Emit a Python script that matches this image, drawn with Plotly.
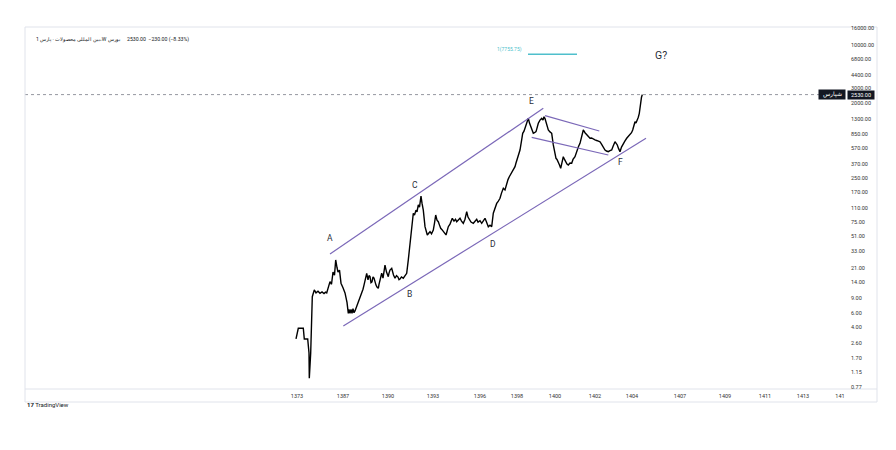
import math
import plotly.graph_objects as go

# ---- data (x = bar position on the time scale, price in rial) ----
bar_pos = [296, 298.3, 303.3, 304.3, 307.7, 309, 309.3, 310.7, 312.3, 314.3, 316, 318, 320, 322,
           324, 325.5, 326.7, 328, 330, 331.5, 333, 334.5, 335.7, 337, 338, 339.5, 341, 343, 345,
           347, 348.3, 349, 350, 351, 352, 353, 354, 355, 356.5, 358, 360, 361.7, 363, 364, 365.5,
           366.7, 368, 369, 370, 371, 372, 373, 374, 375, 376, 377, 378.3, 379, 380, 381.7, 383,
           384, 385, 386.5, 387.5, 388.3, 389, 390, 391.7, 392.5, 393.5, 395, 396.5, 398, 399,
           400, 401.5, 403.3, 405, 406.7, 408.3, 411, 413.3, 414.5, 416, 417, 418.3, 419.5, 421,
           422, 423.3, 425, 427.3, 428.5, 430, 431.5, 433.3, 434.5, 435.7, 437, 438.3, 439.5, 440.7,
           442, 443.3, 444.5, 446, 447, 448.3, 450, 452.3, 454, 455.5, 456.7, 458, 460, 461.5,
           463.3, 465, 466.7, 468, 469.3, 471, 473.3, 475, 476.7, 478, 480, 481.7, 483, 485,
           486.5, 488.3, 490, 491.7, 493.3, 495, 496.7, 498, 500, 501.5, 503.3, 505, 506.7, 508,
           509.3, 511, 512.7, 514, 515, 516, 517.3, 518.5, 520, 521.5, 522.7, 524, 525, 526.7,
           528.3, 529.5, 530.7, 532, 533.3, 534.5, 536, 537, 538.3, 540, 541.7, 543, 544, 545,
           546, 547, 548.3, 550, 551.7, 553.3, 554.5, 556, 557, 558.3, 559.5, 560.7, 562, 563.3,
           564.5, 565.7, 567, 568.3, 570, 571.7, 573, 575, 576, 577.3, 578.5, 580, 581.5, 583.3,
           585, 586.7, 588, 590, 591.5, 593.3, 595, 597.3, 598.5, 600, 601.5, 602.7, 604, 605,
           606.5, 608.3, 610, 611.7, 613, 615, 616, 617.3, 618.5, 620, 621.5, 623.3, 625, 626.7,
           628, 630, 631.5, 632.7, 634, 635, 636, 637.3, 638.3, 639.3, 640, 640.7, 641.5, 642.3]
price = [2.90, 3.90, 3.90, 2.90, 2.90, 1.97, 0.975, 1.97, 9.36, 11.3, 10.4, 10.9, 10.3, 10.7,
         10.2, 10.6, 10.4, 12.0, 14.2, 13.2, 18.5, 17.0, 25.9, 21.0, 18.5, 19.5, 13.6, 12.0, 10.4,
         8.0, 5.90, 6.6, 5.9, 6.6, 5.9, 6.7, 6.0, 6.3, 7.0, 7.86, 9.0, 10.3, 11.5, 12.9, 15.0,
         17.9, 14.9, 16.8, 16.3, 13.8, 14.1, 16.2, 15.7, 13.5, 12.9, 12.2, 11.8, 13.2, 14.9, 17.9, 15.7,
         18.8, 22.5, 18.5, 17.2, 16.3, 18.0, 19.6, 20.5, 18.2, 17.1, 15.6, 16.8, 16.1, 15.0,
         15.3, 16.2, 15.6, 16.5, 17.9, 25.9, 51.8, 94.4, 90.0, 103, 98, 119, 112, 152,
         125, 103, 65.1, 51.8, 54.0, 56.7, 53.5, 59.4, 72.0, 90.0, 78.0, 74.8, 68.0, 62.2,
         60.0, 56.7, 54.0, 51.8, 57.0, 65.1, 70.0, 82.2, 76.0, 80.0, 74.8, 78.0, 82.2, 76.0,
         71.5, 80.0, 98.6, 85.0, 78.3, 74.0, 71.5, 76.0, 79.9, 74.0, 77.0, 71.5, 76.0, 82.2,
         74.0, 65.1, 68.0, 65.1, 94.4, 110, 124, 130, 143, 165, 189, 180, 217, 240,
         260, 280, 299, 320, 343, 380, 433, 480, 545, 700, 865, 920, 995, 1194,
         1313, 1150, 1041, 920, 865, 880, 906, 1000, 1143, 1250, 1313, 1250, 1371, 1300,
         1194, 1050, 949, 900, 865, 627, 520, 433, 420, 394, 360, 328, 400, 453,
         420, 394, 370, 360, 380, 377, 420, 453, 500, 545, 600, 656, 800, 949,
         880, 826, 790, 754, 760, 733, 720, 705, 690, 685, 640, 597, 560, 545,
         530, 520, 535, 545, 600, 685, 660, 627, 570, 520, 590, 656, 700, 754,
         790, 826, 880, 949, 1050, 1194, 1150, 1250, 1350, 1507, 1800, 2178, 2350, 2530]

upper_channel_x = [330, 543.3]
upper_channel_y = [30.5, 1731]
lower_channel_x = [343.3, 646]
lower_channel_y = [4.16, 754]
flag_upper_x = [545, 599.3]
flag_upper_y = [1410, 922]
flag_lower_x = [531.7, 608.3]
flag_lower_y = [774, 474]
target_x = [528, 577]
target_price = 7755.75
last_price = 2530.00

wave_labels = ["A", "B", "C", "D", "E", "F"]
wave_x = [330, 409.5, 415, 492.5, 531, 620]
wave_y = [47.5, 10.1, 206, 40.8, 2148, 396]

price_ticks = [16000, 10000, 6800, 4400, 3000, 2000, 1300, 850, 570, 370, 250, 170, 110, 75,
               51, 33, 21, 14, 9, 6, 4, 2.6, 1.7, 1.15, 0.77]
time_tick_pos = [297, 343, 388, 433, 480, 517, 555, 595, 632, 680, 725, 765, 803, 840]
time_tick_text = ["1373", "1387", "1390", "1393", "1396", "1398", "1400", "1402", "1404",
                  "1407", "1409", "1411", "1413", "141"]

PURPLE = "#7b68b8"
CYAN = "#4fbfcc"
FONT = "Roboto"
PW, PH = 820, 362  # plot area size in px

fig = go.Figure()
fig.add_trace(go.Scatter(x=bar_pos, y=price, mode="lines",
                         line=dict(color="#000000", width=1.4), hoverinfo="skip"))
for xs, ys in [(upper_channel_x, upper_channel_y), (lower_channel_x, lower_channel_y),
               (flag_upper_x, flag_upper_y), (flag_lower_x, flag_lower_y)]:
    fig.add_trace(go.Scatter(x=xs, y=ys, mode="lines",
                             line=dict(color=PURPLE, width=1.2), hoverinfo="skip"))
fig.add_trace(go.Scatter(x=target_x, y=[target_price, target_price], mode="lines",
                         line=dict(color=CYAN, width=1.5), hoverinfo="skip"))

# last price dotted line
fig.add_shape(type="line", xref="paper", yref="y", x0=0, x1=1, y0=last_price, y1=last_price,
              line=dict(color="#9598a1", width=1, dash="dot"))

for t, x, y in zip(wave_labels, wave_x, wave_y):
    fig.add_annotation(x=x, y=math.log10(y), text=t, showarrow=False,
                       font=dict(family=FONT, size=8.5, color="#2a2e39"))
fig.add_annotation(x=661, y=math.log10(7380), text="G?", showarrow=False,
                   font=dict(family=FONT, size=10.5, color="#2a2e39"))
fig.add_annotation(x=523.5, y=math.log10(8710), text=f"1({target_price:.2f})", showarrow=False,
                   xanchor="right", font=dict(family=FONT, size=5, color=CYAN))

# right price scale labels (left-aligned, placed on the log y scale)
for v in price_ticks:
    fig.add_annotation(xref="paper", x=(849 - 25) / PW, y=math.log10(v),
                       text=f"{v:.2f}", showarrow=False, xanchor="left", yanchor="middle",
                       font=dict(family=FONT, size=5.5, color="#333333"))

# price-scale labels for the last price
fig.add_annotation(xref="paper", x=(846 - 25) / PW, y=math.log10(last_price), text="شپارس",
                   showarrow=False, xanchor="right", bgcolor="#131722", width=24,
                   font=dict(family=FONT, size=5.5, color="#ffffff"), borderpad=1)
fig.add_annotation(xref="paper", x=(847 - 25) / PW, y=math.log10(last_price),
                   text=f"{last_price:.2f}", showarrow=False, xanchor="left",
                   bgcolor="#131722", width=24,
                   font=dict(family=FONT, size=5.5, color="#ffffff"), borderpad=1)

# header
fig.add_annotation(xref="paper", yref="paper", x=(122 - 25) / PW, y=(389 - 34) / PH,
                   text="\u202bبورس W،بین المللی محصولات · پارس 1\u202c", showarrow=False,
                   xanchor="right", font=dict(family=FONT, size=5.2, color="#131722"))
fig.add_annotation(xref="paper", yref="paper", x=(125 - 25) / PW, y=(389 - 34) / PH,
                   text="2530.00  −230.00 (−8.33%)", showarrow=False, xanchor="left",
                   font=dict(family=FONT, size=5.2, color="#131722"))
# watermark
fig.add_annotation(xref="paper", yref="paper", x=0.0, y=-(410 - 389) / PH,
                   text="<b>17</b> TradingView", showarrow=False, xanchor="left",
                   font=dict(family=FONT, size=6, color="#131722"))

# frame
fig.add_shape(type="rect", xref="paper", yref="paper", x0=0, x1=(877 - 25) / PW,
              y0=-(402 - 389) / PH, y1=1, line=dict(color="#e0e3eb", width=1))
fig.add_shape(type="line", xref="paper", yref="paper", x0=0, x1=(877 - 25) / PW,
              y0=0, y1=0, line=dict(color="#e0e3eb", width=1))

# page body has an 8px margin: figure is 888x442 so plot sits at px 25..845 / 27..389
fig.update_layout(
    width=888, height=442,
    margin=dict(l=17, r=51, t=19, b=61, autoexpand=False),
    paper_bgcolor="#ffffff", plot_bgcolor="#ffffff",
    showlegend=False,
    xaxis=dict(range=[25, 845], showgrid=False, zeroline=False, tickmode="array",
               tickvals=time_tick_pos, ticktext=time_tick_text, automargin=False,
               ticks="outside", ticklen=1, tickcolor="rgba(0,0,0,0)",
               tickfont=dict(family=FONT, size=5.5, color="#333333")),
    yaxis=dict(type="log", range=[-0.1396, 4.2166], side="right", showgrid=False,
               zeroline=False, tickmode="array", tickvals=price_ticks,
               showticklabels=False, ticks="", automargin=False),
)

fig.write_html("out.html")
